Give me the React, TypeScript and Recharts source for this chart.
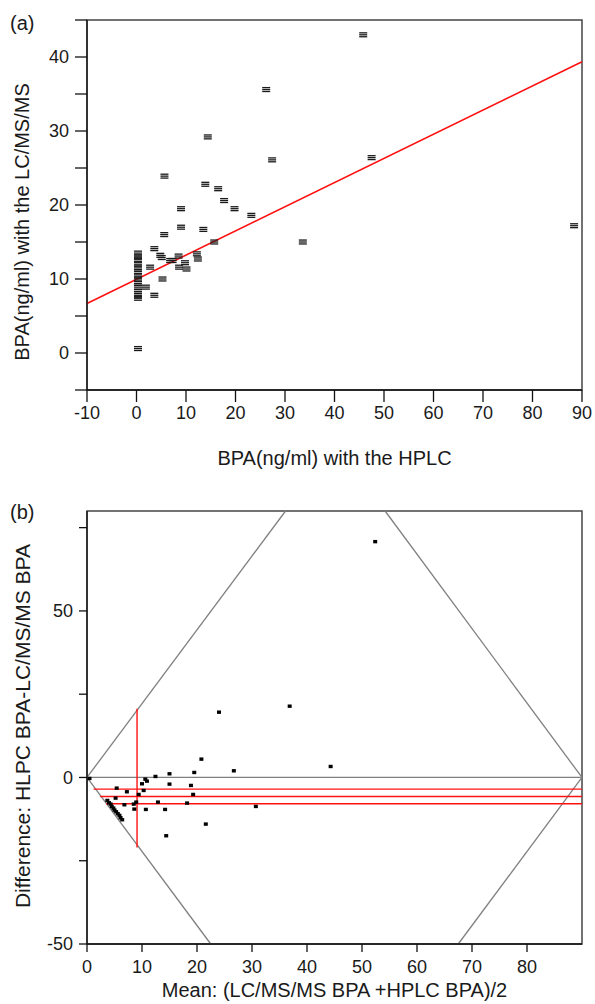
import React from 'react';
import {
  ScatterChart,
  Scatter,
  XAxis,
  YAxis,
  ReferenceLine,
  ReferenceArea,
} from 'recharts';

const FONT = '"Liberation Sans", Arial, sans-serif';

// (a) BPA by HPLC (x) against BPA by LC/MS/MS (y)
const hplcA = [
  0.3, 0.3, 0.3, 0.3, 0.3, 0.3, 0.3, 0.3, 0.3, 0.3, 0.3, 0.3, 0.3, 0.3,
  1.9, 2.75, 3.6, 3.6, 4.8, 5.1, 5.25, 5.6, 5.65, 6.8, 7.3, 8.5, 8.6, 9.0,
  9.0, 9.8, 10.1, 12.2, 12.4, 13.5, 13.9, 14.4, 15.7, 16.5, 17.7, 19.8,
  23.2, 26.2, 27.4, 33.6, 45.8, 47.5, 88.4,
];
const lcmsA = [
  13.5, 13.0, 12.6, 12.0, 11.5, 11.0, 10.4, 10.0, 9.4, 8.9, 8.3, 7.8, 7.4, 0.6,
  8.9, 11.6, 7.8, 14.1, 13.2, 12.9, 10.0, 16.0, 23.9, 12.5, 12.5, 13.1, 11.6, 17.0,
  19.5, 12.2, 11.35, 13.4, 12.7, 16.7, 22.8, 29.2, 15.0, 22.2, 20.6, 19.5,
  18.6, 35.6, 26.1, 15.0, 43.0, 26.4, 17.2,
];
const fitLine = [
  { x: -10, y: 6.7 },
  { x: 90, y: 39.35 },
];
const xTicksA = [-10, 0, 10, 20, 30, 40, 50, 60, 70, 80, 90];
const yTicksA = [-5, 0, 5, 10, 15, 20, 25, 30, 35, 40, 45];
const yLabelsA = [0, 10, 20, 30, 40];

// (b) mean of both methods (x) against difference (y)
const meanB = [
  0.45, 3.7, 4.0, 4.3, 4.5, 4.8, 5.0, 5.3, 5.6, 5.9, 6.1, 6.4,
  5.4, 5.2, 6.8, 7.25, 8.5, 8.6, 8.95, 9.4, 10.0, 10.3, 10.6, 10.7, 10.9,
  12.45, 12.9, 14.2, 14.4, 15.0, 15.0, 18.2, 18.9, 19.3, 19.5, 20.8, 21.6,
  24.0, 26.7, 30.7, 36.85, 44.3, 52.4,
];
const diffB = [
  -0.3, -6.9, -7.6, -8.0, -8.7, -9.2, -9.8, -10.3, -10.9, -11.4, -12.1, -12.7,
  -3.2, -6.2, -8.2, -4.3, -8.0, -9.5, -7.4, -5.1, -1.9, -3.9, -0.5, -9.6, -1.1,
  0.3, -7.4, -9.6, -17.5, 1.1, -2.0, -7.7, -2.4, -5.1, 1.5, 5.5, -14.0,
  19.6, 2.0, -8.7, 21.4, 3.3, 70.8,
];
const limitSegments = [
  [{ x: 0, y: 0 }, { x: 36.1, y: 80 }],
  [{ x: 0, y: 0 }, { x: 22.5, y: -50 }],
  [{ x: 90, y: 0 }, { x: 54.2, y: 80 }],
  [{ x: 90, y: 0 }, { x: 67.5, y: -50 }],
  [{ x: 0, y: 0 }, { x: 90, y: 0 }],
];
const biasLines = [
  { y: -3.5, from: 1.2 },
  { y: -5.7, from: 2.4 },
  { y: -7.9, from: 3.5 },
];
const meanLine = { x: 9.1, from: -21, to: 20.6 };
const xTicksB = [0, 10, 20, 30, 40, 50, 60, 70, 80];
const yTicksB = [-50, -25, 0, 25, 50, 75];
const yLabelsB = [-50, 0, 50];

const pointsA = hplcA.map((x, i) => ({ x, y: lcmsA[i] }));
const pointsB = meanB.map((x, i) => ({ x, y: diffB[i] }));

const tickStyle = { fontSize: 18, fill: '#1a1a1a', fontFamily: FONT };

const StripedMarker = (props: any) => {
  const { cx, cy } = props;
  return (
    <g>
      <rect x={cx - 4} y={cy - 2.6} width={8} height={1.3} fill="#1a1a1a" />
      <rect x={cx - 4} y={cy - 0.65} width={8} height={1.3} fill="#1a1a1a" />
      <rect x={cx - 4} y={cy + 1.3} width={8} height={1.3} fill="#1a1a1a" />
    </g>
  );
};

const DotMarker = (props: any) => {
  const { cx, cy } = props;
  return <rect x={cx - 2} y={cy - 1.7} width={4} height={3.4} fill="#000" />;
};

const xTitle = (text: string, y: number) => (p: any) => {
  const vb = p.viewBox || {};
  return (
    <text
      x={vb.x + vb.width / 2}
      y={y}
      textAnchor="middle"
      dominantBaseline="central"
      fontSize={20}
      fontFamily={FONT}
      fill="#1a1a1a"
    >
      {text}
    </text>
  );
};

const yTitle = (text: string, x: number, y: number, size = 20) => () => (
  <text
    x={x}
    y={y}
    transform={`rotate(-90 ${x} ${y})`}
    textAnchor="middle"
    dominantBaseline="central"
    fontSize={size}
    fontFamily={FONT}
    fill="#1a1a1a"
  >
    {text}
  </text>
);

const panelTag = (top: number): React.CSSProperties => ({
  position: 'absolute',
  left: 10,
  top,
  fontSize: 20,
  fontFamily: FONT,
  color: '#1a1a1a',
});

export default function App() {
  return (
    <div style={{ position: 'absolute', left: 0, top: 0, width: 595, height: 1004, background: '#fff' }}>
      <div style={panelTag(12)}>(a)</div>
      <div style={{ position: 'absolute', left: 0, top: 0 }}>
        <ScatterChart width={595} height={480} margin={{ top: 20, right: 13, bottom: 0, left: 0 }}>
          <XAxis
            type="number"
            dataKey="x"
            domain={[-10, 90]}
            ticks={xTicksA}
            allowDataOverflow
            height={90}
            stroke="#111"
            strokeWidth={1.3}
            tickSize={12}
            tickMargin={4}
            tick={tickStyle}
            label={xTitle('BPA(ng/ml) with the HPLC', 458)}
          />
          <YAxis
            type="number"
            dataKey="y"
            domain={[-5, 45]}
            ticks={yTicksA}
            allowDataOverflow
            width={87}
            stroke="#111"
            strokeWidth={1.3}
            tickSize={12}
            tickMargin={6}
            tick={tickStyle}
            tickFormatter={(v: number) => (yLabelsA.includes(v) ? String(v) : '')}
            label={yTitle('BPA(ng/ml) with the LC/MS/MS', 22, 222)}
          />
          <ReferenceArea x1={-10} x2={90} y1={-5} y2={45} fill="none" stroke="#444" strokeWidth={1.5} ifOverflow="visible" />
          <ReferenceLine segment={fitLine} stroke="#ff1010" strokeWidth={1.6} ifOverflow="visible" />
          <Scatter data={pointsA} shape={StripedMarker} isAnimationActive={false} />
        </ScatterChart>
      </div>

      <div style={panelTag(501)}>(b)</div>
      <div style={{ position: 'absolute', left: 0, top: 480 }}>
        <ScatterChart width={595} height={524} margin={{ top: 31, right: 13, bottom: 0, left: 0 }}>
          <XAxis
            type="number"
            dataKey="x"
            domain={[0, 90]}
            ticks={xTicksB}
            allowDataOverflow
            height={60}
            stroke="#111"
            strokeWidth={1.3}
            tickSize={8}
            tickMargin={8}
            tick={tickStyle}
            label={xTitle('Mean: (LC/MS/MS BPA +HPLC BPA)/2', 510)}
          />
          <YAxis
            type="number"
            dataKey="y"
            domain={[-50, 80]}
            ticks={yTicksB}
            allowDataOverflow
            width={87}
            stroke="#111"
            strokeWidth={1.3}
            tickSize={8}
            tickMargin={6}
            tick={tickStyle}
            tickFormatter={(v: number) => (yLabelsB.includes(v) ? String(v) : '')}
            label={yTitle('Difference: HLPC BPA-LC/MS/MS BPA', 22, 246, 21)}
          />
          <ReferenceArea x1={0} x2={90} y1={-50} y2={80} fill="none" stroke="#444" strokeWidth={1.5} ifOverflow="visible" />
          {limitSegments.map((seg, i) => (
            <ReferenceLine key={`lim-${i}`} segment={seg} stroke="#808080" strokeWidth={1.3} ifOverflow="visible" />
          ))}
          {biasLines.map((b) => (
            <ReferenceLine
              key={`bias-${b.y}`}
              segment={[{ x: b.from, y: b.y }, { x: 90, y: b.y }]}
              stroke="#ff1010"
              strokeWidth={1.4}
              ifOverflow="visible"
            />
          ))}
          <ReferenceLine
            segment={[{ x: meanLine.x, y: meanLine.from }, { x: meanLine.x, y: meanLine.to }]}
            stroke="#ff1010"
            strokeWidth={1.4}
            ifOverflow="visible"
          />
          <Scatter data={pointsB} shape={DotMarker} isAnimationActive={false} />
        </ScatterChart>
      </div>
    </div>
  );
}
